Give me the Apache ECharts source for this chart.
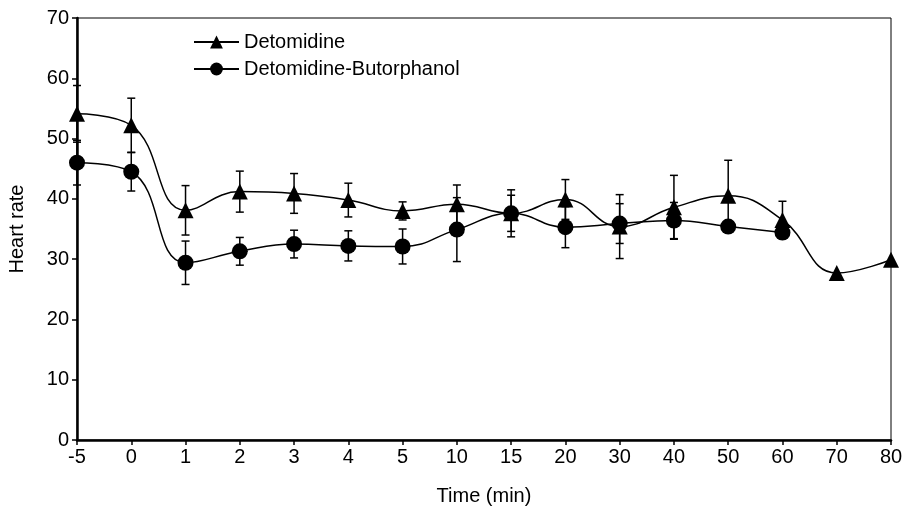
<!DOCTYPE html>
<html>
<head>
<meta charset="utf-8">
<script src="https://cdn.jsdelivr.net/npm/echarts@6/dist/echarts.min.js"></script>
<style>
    html, body { margin: 0; padding: 0; background: #fff; }
    #chart { width: 906px; height: 506px; }
</style>
</head>
<body>
<div id="chart"></div>
<script>
// tiempos (min) - eje de categorias
var tiempos = ['-5', '0', '1', '2', '3', '4', '5', '10', '15', '20', '30', '40', '50', '60', '70', '80'];

// Detomidine: media y error
var detoMedia = [54.1, 52.2, 38.1, 41.2, 40.9, 39.8, 38.0, 39.1, 37.6, 39.9, 35.4, 38.6, 40.5, 36.5, 27.7, 29.9];
var detoError = [4.7, 4.5, 4.1, 3.4, 3.3, 2.8, 1.5, 3.2, 3.9, 3.3, 5.3, 5.3, 5.9, 3.1, null, null];

// Detomidine-Butorphanol: media y error
var butMedia = [46.0, 44.5, 29.4, 31.3, 32.5, 32.2, 32.1, 34.9, 37.6, 35.3, 35.9, 36.4, 35.4, 34.4, null, null];
var butError = [3.7, 3.2, 3.6, 2.3, 2.3, 2.5, 2.9, 5.3, 3.0, 3.4, 3.3, 3.0, 0.5, 0.8, null, null];

function barrasError(media, error) {
    var res = [];
    for (var i = 0; i < media.length; i++) {
        if (media[i] == null || error[i] == null) continue;
        res.push([i, media[i] - error[i], media[i] + error[i]]);
    }
    return res;
}

function renderError(params, api) {
    var bajo = api.coord([api.value(0), api.value(1)]);
    var alto = api.coord([api.value(0), api.value(2)]);
    var w = 4;
    var estilo = { stroke: '#000', lineWidth: 1.5 };
    return {
        type: 'group',
        children: [
            { type: 'line', shape: { x1: bajo[0], y1: bajo[1], x2: alto[0], y2: alto[1] }, style: estilo },
            { type: 'line', shape: { x1: bajo[0] - w, y1: bajo[1], x2: bajo[0] + w, y2: bajo[1] }, style: estilo },
            { type: 'line', shape: { x1: alto[0] - w, y1: alto[1], x2: alto[0] + w, y2: alto[1] }, style: estilo }
        ]
    };
}

var fuente = 'Liberation Sans, Arial, Helvetica, sans-serif';

var dom = document.getElementById('chart');
var myChart = echarts.init(dom, null, { renderer: 'canvas' });

var option = {
    animation: false,
    backgroundColor: '#fff',
    textStyle: { fontFamily: fuente, color: '#000' },
    grid: {
        left: 77,
        right: 15,
        top: 18,
        bottom: 66,
        outerBoundsMode: 'none',
        containLabel: false,
        show: true,
        borderColor: '#000',
        borderWidth: 1
    },
    legend: {
        orient: 'vertical',
        left: 188,
        top: 27,
        itemWidth: 45,
        itemHeight: 16,
        itemGap: 7,
        textStyle: { fontFamily: fuente, fontSize: 20, color: '#000' },
        data: ['Detomidine', 'Detomidine-Butorphanol']
    },
    xAxis: {
        type: 'category',
        data: tiempos,
        boundaryGap: false,
        name: 'Time (min)',
        nameLocation: 'middle',
        nameGap: 46,
        nameTextStyle: { fontFamily: fuente, fontSize: 20, color: '#000' },
        axisLine: { lineStyle: { color: '#000', width: 2.5 } },
        axisTick: { show: true, length: 5, lineStyle: { color: '#000', width: 1.5 } },
        axisLabel: { fontFamily: fuente, fontSize: 20, color: '#000', margin: 7, interval: 0 },
        splitLine: { show: false }
    },
    yAxis: {
        type: 'value',
        min: 0,
        max: 70,
        interval: 10,
        name: 'Heart rate',
        nameLocation: 'middle',
        nameGap: 50,
        nameTextStyle: { fontFamily: fuente, fontSize: 20, color: '#000' },
        axisLine: { show: true, lineStyle: { color: '#000', width: 2.5 } },
        axisTick: { show: true, length: 5, lineStyle: { color: '#000', width: 1.5 } },
        axisLabel: { fontFamily: fuente, fontSize: 20, color: '#000', margin: 8 },
        splitLine: { show: false }
    },
    series: [
        {
            type: 'custom',
            name: 'errDeto',
            renderItem: renderError,
            encode: { x: 0, y: [1, 2] },
            data: barrasError(detoMedia, detoError),
            z: 1
        },
        {
            type: 'custom',
            name: 'errBut',
            renderItem: renderError,
            encode: { x: 0, y: [1, 2] },
            data: barrasError(butMedia, butError),
            z: 1
        },
        {
            name: 'Detomidine',
            type: 'line',
            data: detoMedia,
            smooth: 0.45,
            symbol: 'triangle',
            symbolSize: 16,
            showAllSymbol: true,
            itemStyle: { color: '#000' },
            lineStyle: { color: '#000', width: 1.5 },
            z: 3
        },
        {
            name: 'Detomidine-Butorphanol',
            type: 'line',
            data: butMedia,
            smooth: 0.45,
            symbol: 'circle',
            symbolSize: 16,
            showAllSymbol: true,
            connectNulls: false,
            itemStyle: { color: '#000' },
            lineStyle: { color: '#000', width: 1.5 },
            z: 3
        }
    ]
};

myChart.setOption(option);
window.addEventListener('resize', myChart.resize);
</script>
</body>
</html>
